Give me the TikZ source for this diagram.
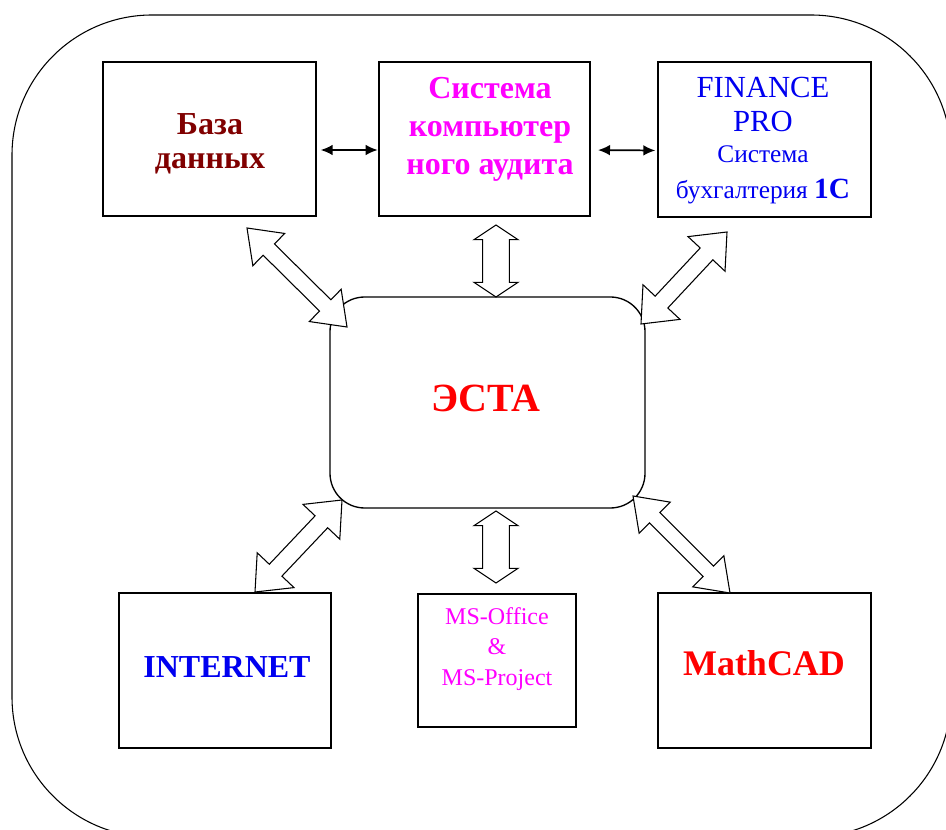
\documentclass[tikz,border=0pt]{standalone}
\usepackage{fontspec}
\setmainfont{Liberation Serif}
\usetikzlibrary{calc,fit,arrows.meta}
\definecolor{dbred}{RGB}{128,0,0}
\definecolor{mag}{RGB}{255,0,255}
\definecolor{blu}{RGB}{0,0,240}
\definecolor{rd}{RGB}{255,0,0}
\newcommand\fatarr[5]{%
\draw[fatline] (#1) -- ($(#1)!#3!(#2)!#4!90:(#2)$) -- ($(#1)!#3!(#2)!#5!90:(#2)$)
 -- ($(#2)!#3!(#1)!#5!-90:(#1)$) -- ($(#2)!#3!(#1)!#4!-90:(#1)$) -- (#2)
 -- ($(#2)!#3!(#1)!#4!90:(#1)$) -- ($(#2)!#3!(#1)!#5!90:(#1)$)
 -- ($(#1)!#3!(#2)!#5!-90:(#2)$) -- ($(#1)!#3!(#2)!#4!-90:(#2)$) -- cycle;}
\begin{document}
\begin{tikzpicture}[x=0.75pt,y=-0.75pt,
  boxrect/.style={draw,line width=1pt,inner sep=0pt},
  fatline/.style={draw,line width=0.8pt,fill=white,line join=miter},
  thinarr/.style={line width=1.3pt,{Latex[length=9pt,width=8pt]}-{Latex[length=9pt,width=8pt]}},
  txt/.style={align=center,inner sep=0pt}]
\useasboundingbox (0,0) rectangle (946,830);
\clip (0,0) rectangle (946,830);
\draw[line width=0.8pt,rounded corners=105pt] (12,15) rectangle (951,837);
% boxes
\node[boxrect,fit={(103,62) (316,216)}] (db) {};
\node[boxrect,fit={(379,62) (590,216)}] (csa) {};
\node[boxrect,fit={(658,62) (871,217)}] (fin) {};
\node[boxrect,rounded corners=26pt,fit={(330,297) (645,508)}] (esta) {};
\node[boxrect,fit={(119,593) (331,748)}] (inet) {};
\node[boxrect,fit={(418,594) (576,727)}] (ms) {};
\node[boxrect,fit={(658,593) (871,748)}] (mcad) {};
% texts
\node[txt,text=dbred,font=\bfseries\fontsize{24}{25.5}\selectfont] (dbt) at (210,144) {База\\данных};
\node[txt,text=mag,font=\bfseries\fontsize{24}{28.5}\selectfont] (csat) at (490,129) {Система\\компьютер\\ного аудита};
\node[txt,text=blu,font=\fontsize{23}{25.5}\selectfont] (fint) at (763,105) {FINANCE\\PRO};
\node[txt,text=blu,font=\fontsize{19}{27}\selectfont] (fint2) at (763,175) {Система\\бухгалтерия {\bfseries\fontsize{22}{27}\selectfont 1С}};
\node[txt,text=rd,font=\bfseries\fontsize{30}{34}\selectfont] (estat) at (486,398) {ЭСТА};
\node[txt,text=blu,font=\bfseries\fontsize{24}{28}\selectfont] (inett) at (227,667) {INTERNET};
\node[txt,text=mag,font=\fontsize{18}{23}\selectfont] (mst) at (497,649) {MS-Office\\\&\\MS-Project};
\node[txt,text=rd,font=\bfseries\fontsize{27}{30}\selectfont] (mcadt) at (764,663) {MathCAD};
% thin arrows
\draw[thinarr,shorten <=3pt,shorten >=0.5pt] ([yshift=-8.25pt]db.east) -- ([yshift=-8.25pt]csa.west);
\draw[thinarr,shorten <=5.5pt,shorten >=1.5pt] ([yshift=-8.25pt]csa.east) -- ([yshift=-8.25pt]fin.west);
% fat arrow end points
\coordinate (a1s) at (247,228); \coordinate (a1e) at (347,327);
\coordinate (a2s) at (496,225); \coordinate (a2e) at (496,297);
\coordinate (a3s) at (641,324); \coordinate (a3e) at (727,232);
\coordinate (a4s) at (255,592); \coordinate (a4e) at (342,500);
\coordinate (a5s) at (496,511); \coordinate (a5e) at (496,583);
\coordinate (a6s) at (633,496); \coordinate (a6e) at (730,593);
\fatarr{a1s}{a1e}{23pt}{17pt}{6pt}
\fatarr{a2s}{a2e}{11pt}{16.5pt}{10pt}
\fatarr{a3s}{a3e}{22.5pt}{19pt}{6.5pt}
\fatarr{a4s}{a4e}{22.5pt}{19pt}{6.5pt}
\fatarr{a5s}{a5e}{11pt}{16.5pt}{10pt}
\fatarr{a6s}{a6e}{23pt}{16.5pt}{5.5pt}
\end{tikzpicture}
\end{document}
